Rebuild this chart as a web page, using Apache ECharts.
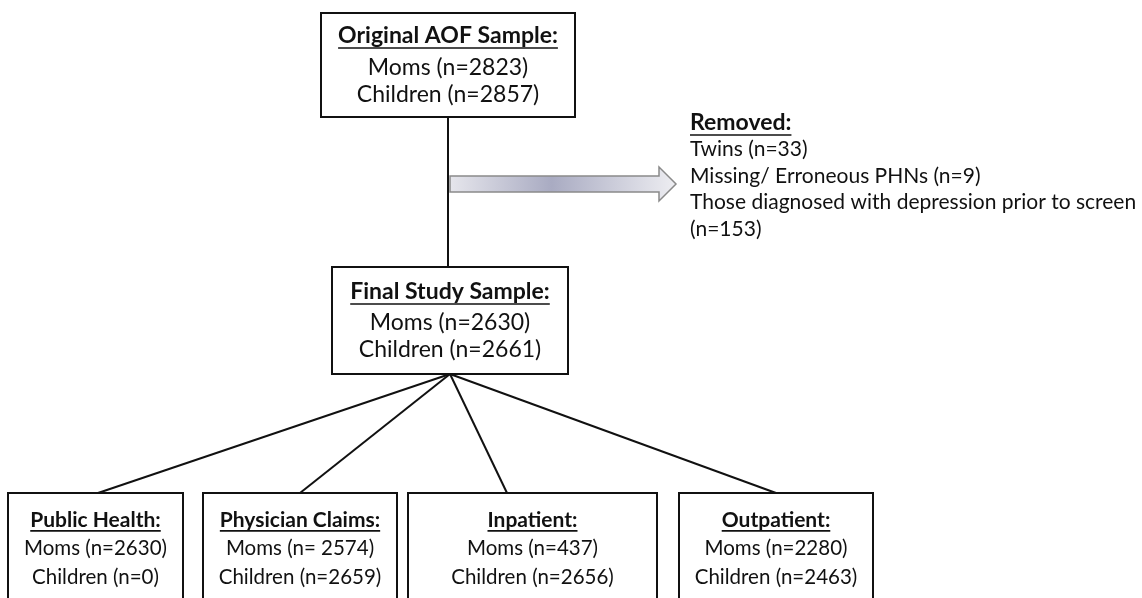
<!DOCTYPE html>
<html><head><meta charset="utf-8">
<script src="https://cdn.jsdelivr.net/npm/echarts@6/dist/echarts.min.js"></script>
<style>html,body{margin:0;background:#fff}#c{width:1142px;height:598px}</style>
</head><body><div id="c"></div>
<script>
// ---- content ----
const boxTitles = ['Original AOF Sample:', 'Final Study Sample:', 'Public Health:', 'Physician Claims:', 'Inpatient:', 'Outpatient:'];
const momsLabels = ['Moms (n=2823)', 'Moms (n=2630)', 'Moms (n=2630)', 'Moms (n= 2574)', 'Moms (n=437)', 'Moms (n=2280)'];
const childrenLabels = ['Children (n=2857)', 'Children (n=2661)', 'Children (n=0)', 'Children (n=2659)', 'Children (n=2656)', 'Children (n=2463)'];
const removedTitle = 'Removed:';
const removedItems = ['Twins (n=33)', 'Missing/ Erroneous PHNs (n=9)', 'Those diagnosed with depression prior to screen', '(n=153)'];

// ---- layout (diagram coordinates) ----
const boxRects = [[321,13,575,117],[332,267,568,374],[8,493,183,625],[203,493,397,625],[408,493,657,625],[679,493,873,625]];
const boxLineOffsets = [[23,55,82],[25,56,83],[27,55,84],[27,55,84],[27,55,84],[27,55,84]];
const boxFontSizes = [[23,23],[23,23],[21,20.5],[21,20.5],[21,20.5],[21,20.5]]; // [bold title, regular]
const connectors = [[[448,117],[448,267]],[[450,374],[98,493]],[[450,374],[300,493]],[[450,374],[507,493]],[[450,374],[776,493]]];
const arrowPts = [[450,176],[659,176],[659,167],[676,184],[659,201],[659,192],[450,192]];
const removedPos = [690, 123, 26.5];
const removedFontSizes = [23, 21];

const FONT = 'Lato, Carlito, "Open Sans", sans-serif';
const ctx = document.createElement('canvas').getContext('2d');
function fontStr(bold, size){ return (bold?'bold ':'') + size + 'px ' + FONT; }
function textW(t, bold, size){ ctx.font = fontStr(bold, size); return ctx.measureText(t).width; }

function txt(x, y, t, bold, size, align){
  return {type:'text', x:x, y:y, style:{text:t, font:fontStr(bold, size), fill:'#111', align:align||'center', verticalAlign:'middle'}};
}
function underline(x0, x1, y){
  return {type:'line', shape:{x1:x0, y1:y, x2:x1, y2:y}, style:{stroke:'#111', lineWidth:1.6}};
}

const chart = echarts.init(document.getElementById('c'), null, {renderer:'canvas'});
chart.setOption({
  animation:false,
  backgroundColor:'#fff',
  grid:{left:0, right:0, top:0, bottom:0},
  xAxis:{type:'value', min:0, max:1142, show:false},
  yAxis:{type:'value', min:0, max:598, inverse:true, show:false},
  series:[
    {
      type:'custom', silent:true, z:1,
      data: connectors.map((c,i)=>[i]),
      renderItem:function(params, api){
        const c = connectors[api.value(0)];
        const a = api.coord(c[0]), b = api.coord(c[1]);
        return {type:'line', shape:{x1:a[0], y1:a[1], x2:b[0], y2:b[1]}, style:{stroke:'#111', lineWidth:2}};
      }
    },
    {
      type:'custom', silent:true, z:2,
      data:[[0]],
      renderItem:function(params, api){
        const pts = arrowPts.map(p=>api.coord(p));
        return {type:'polygon', shape:{points:pts}, style:{
          fill:new echarts.graphic.LinearGradient(0,0,1,0,[
            {offset:0, color:'#e6e6ec'},{offset:0.45, color:'#a9abc2'},{offset:1, color:'#eeeef2'}]),
          stroke:'#8a8a8a', lineWidth:1.5}};
      }
    },
    {
      type:'custom', silent:true, z:3,
      data: boxTitles.map((t,i)=>[i]),
      renderItem:function(params, api){
        const i = api.value(0);
        const r = boxRects[i];
        const fs = boxFontSizes[i];
        const p0 = api.coord([r[0], r[1]]), p1 = api.coord([r[2], r[3]]);
        const cx = (p0[0]+p1[0])/2;
        const off = boxLineOffsets[i];
        const ty = api.coord([0, r[1]+off[0]])[1];
        const my = api.coord([0, r[1]+off[1]])[1];
        const chy = api.coord([0, r[1]+off[2]])[1];
        const w = textW(boxTitles[i], true, fs[0]);
        return {type:'group', children:[
          {type:'rect', shape:{x:p0[0], y:p0[1], width:p1[0]-p0[0], height:p1[1]-p0[1]}, style:{fill:'#fff', stroke:'#111', lineWidth:2}},
          txt(cx, ty, boxTitles[i], true, fs[0]),
          underline(cx - w/2, cx + w/2, ty + fs[0]*0.52),
          txt(cx, my, momsLabels[i], false, fs[1]),
          txt(cx, chy, childrenLabels[i], false, fs[1])
        ]};
      }
    },
    {
      type:'custom', silent:true, z:4,
      data:[[0]],
      renderItem:function(params, api){
        const p = api.coord([removedPos[0], removedPos[1]]);
        const w = textW(removedTitle, true, removedFontSizes[0]);
        const kids = [txt(p[0], p[1], removedTitle, true, removedFontSizes[0], 'left'),
                      underline(p[0], p[0]+w, p[1]+removedFontSizes[0]*0.52)];
        removedItems.forEach((t,k)=>{
          const q = api.coord([removedPos[0], removedPos[1] + removedPos[2]*(k+1)]);
          kids.push(txt(q[0], q[1], t, false, removedFontSizes[1], 'left'));
        });
        return {type:'group', children:kids};
      }
    }
  ]
});
</script></body></html>
